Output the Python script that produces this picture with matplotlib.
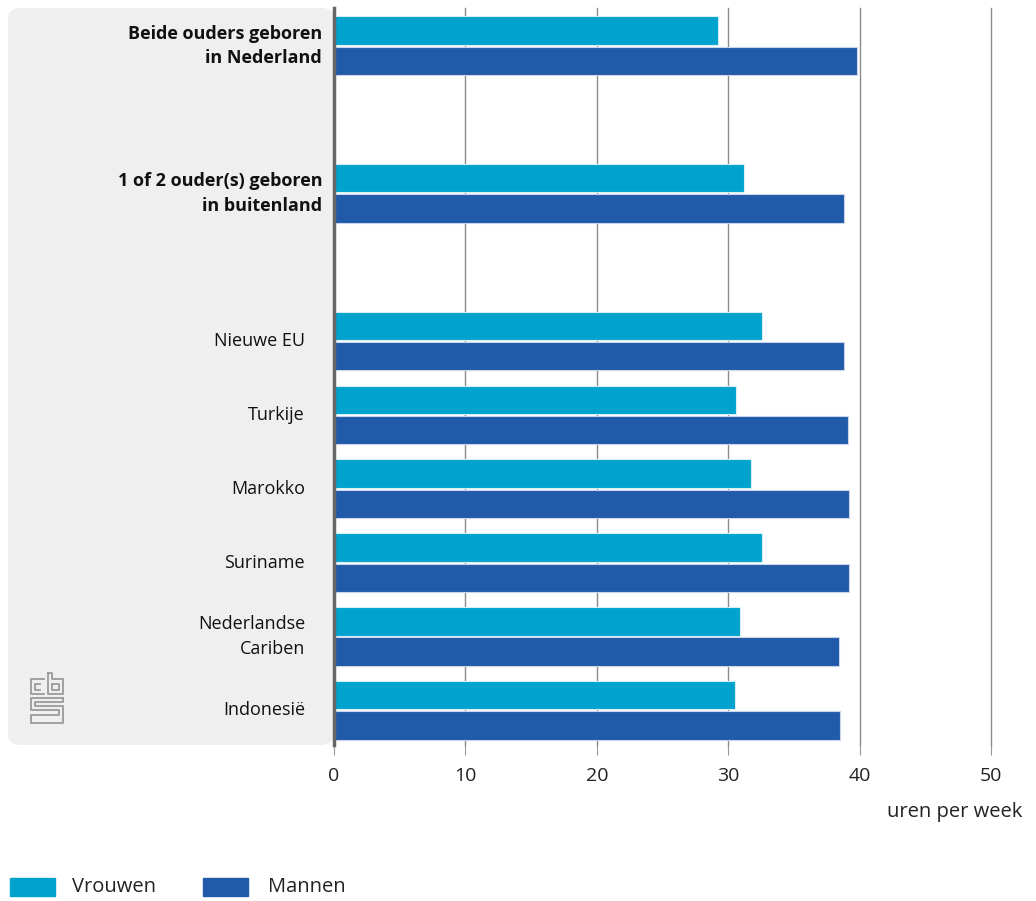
import numpy as np
import matplotlib.pyplot as plt
from matplotlib.patches import FancyBboxPatch, Rectangle
from matplotlib.lines import Line2D

categories = ["Beide ouders geboren\nin Nederland", "1 of 2 ouder(s) geboren\nin buitenland",
              "Nieuwe EU", "Turkije", "Marokko", "Suriname", "Nederlandse\nCariben", "Indonesië"]
bold = [True, True, False, False, False, False, False, False]
positions = [0, 2, 4, 5, 6, 7, 8, 9]
vrouwen = [29.2, 31.2, 32.6, 30.6, 31.7, 32.6, 30.9, 30.5]
mannen = [39.8, 38.8, 38.8, 39.1, 39.2, 39.2, 38.4, 38.5]

c_v = "#00a2ce"
c_m = "#215aa8"

plt.rcParams['font.family'] = ['Open Sans', 'DejaVu Sans']

f = plt.figure(figsize=(10.36, 9.01), dpi=100)

# grey label panel
panel = FancyBboxPatch((8/1036, 1-745/901), (334-8)/1036, (745-8)/901,
                       boxstyle="round,pad=0,rounding_size=0.012",
                       transform=f.transFigure, facecolor="#efefef", edgecolor="none", zorder=-5)
f.patches.append(panel)

ax = f.add_axes([334/1036, 1-745/901, (991-334)/1036, (745-8)/901])
ax.patch.set_alpha(0)
pos = np.array(positions)
h = 0.385
ax.barh(pos - 0.205, vrouwen, height=h, color=c_v, edgecolor="#d8eef6", linewidth=0.8, zorder=3)
ax.barh(pos + 0.205, mannen, height=h, color=c_m, edgecolor="#c9d6ea", linewidth=0.8, zorder=3)

ax.set_xlim(0, 50)
ax.set_ylim(9.47, -0.51)
for s in ["top", "right", "bottom"]:
    ax.spines[s].set_visible(False)
ax.spines["left"].set_color("#666666")
ax.spines["left"].set_linewidth(2.5)
ax.spines["left"].set_zorder(5)
for xv in range(10, 51, 10):
    ax.axvline(xv, color="#8a8a8a", linewidth=1, zorder=1, clip_on=False)

ax.set_xticks(range(0, 51, 10))
ax.tick_params(axis="x", length=7, color="#999999", labelsize=14, labelcolor="#222222", pad=9)
ax.set_yticks(positions)
ax.set_yticklabels([])
ax.tick_params(axis="y", length=0)
for p, lab, b in zip(positions, categories, bold):
    ax.text(-0.9 if b else -2.2, p, lab, ha="right", va="center", fontsize=13,
            fontweight="bold" if b else "normal", color="#111111", linespacing=1.45)

f.text(1022/1036, 1-812/901, "uren per week", ha="right", va="center", fontsize=14.5, color="#222222")

# legend
f.patches.append(Rectangle((10/1036, 1-896/901), 45/1036, 18/901, transform=f.transFigure, color=c_v))
f.patches.append(Rectangle((203/1036, 1-896/901), 45/1036, 18/901, transform=f.transFigure, color=c_m))
f.text(72/1036, 1-887/901, "Vrouwen", ha="left", va="center", fontsize=14.5, color="#222222")
f.text(268/1036, 1-887/901, "Mannen", ha="left", va="center", fontsize=14.5, color="#222222")

# rough cbs logo
def seg(pts):
    xs = [p[0]/1036 for p in pts]
    ys = [1-p[1]/901 for p in pts]
    f.lines.append(Line2D(xs, ys, transform=f.transFigure, color="#9a9a9a", linewidth=1.3))
seg([(44, 679), (31, 679), (31, 694), (44, 694)])
seg([(40, 684), (35, 684), (35, 690), (40, 690)])
seg([(48, 673), (48, 694), (63, 694), (63, 679), (52, 679), (52, 673), (48, 673)])
seg([(52, 684), (59, 684), (59, 690), (52, 690), (52, 684)])
seg([(63, 698), (31, 698), (31, 710), (59, 710), (59, 715), (31, 715), (31, 723), (63, 723),
     (63, 706), (35, 706), (35, 702), (63, 702), (63, 698)])

f.savefig("out.png", dpi=100)
